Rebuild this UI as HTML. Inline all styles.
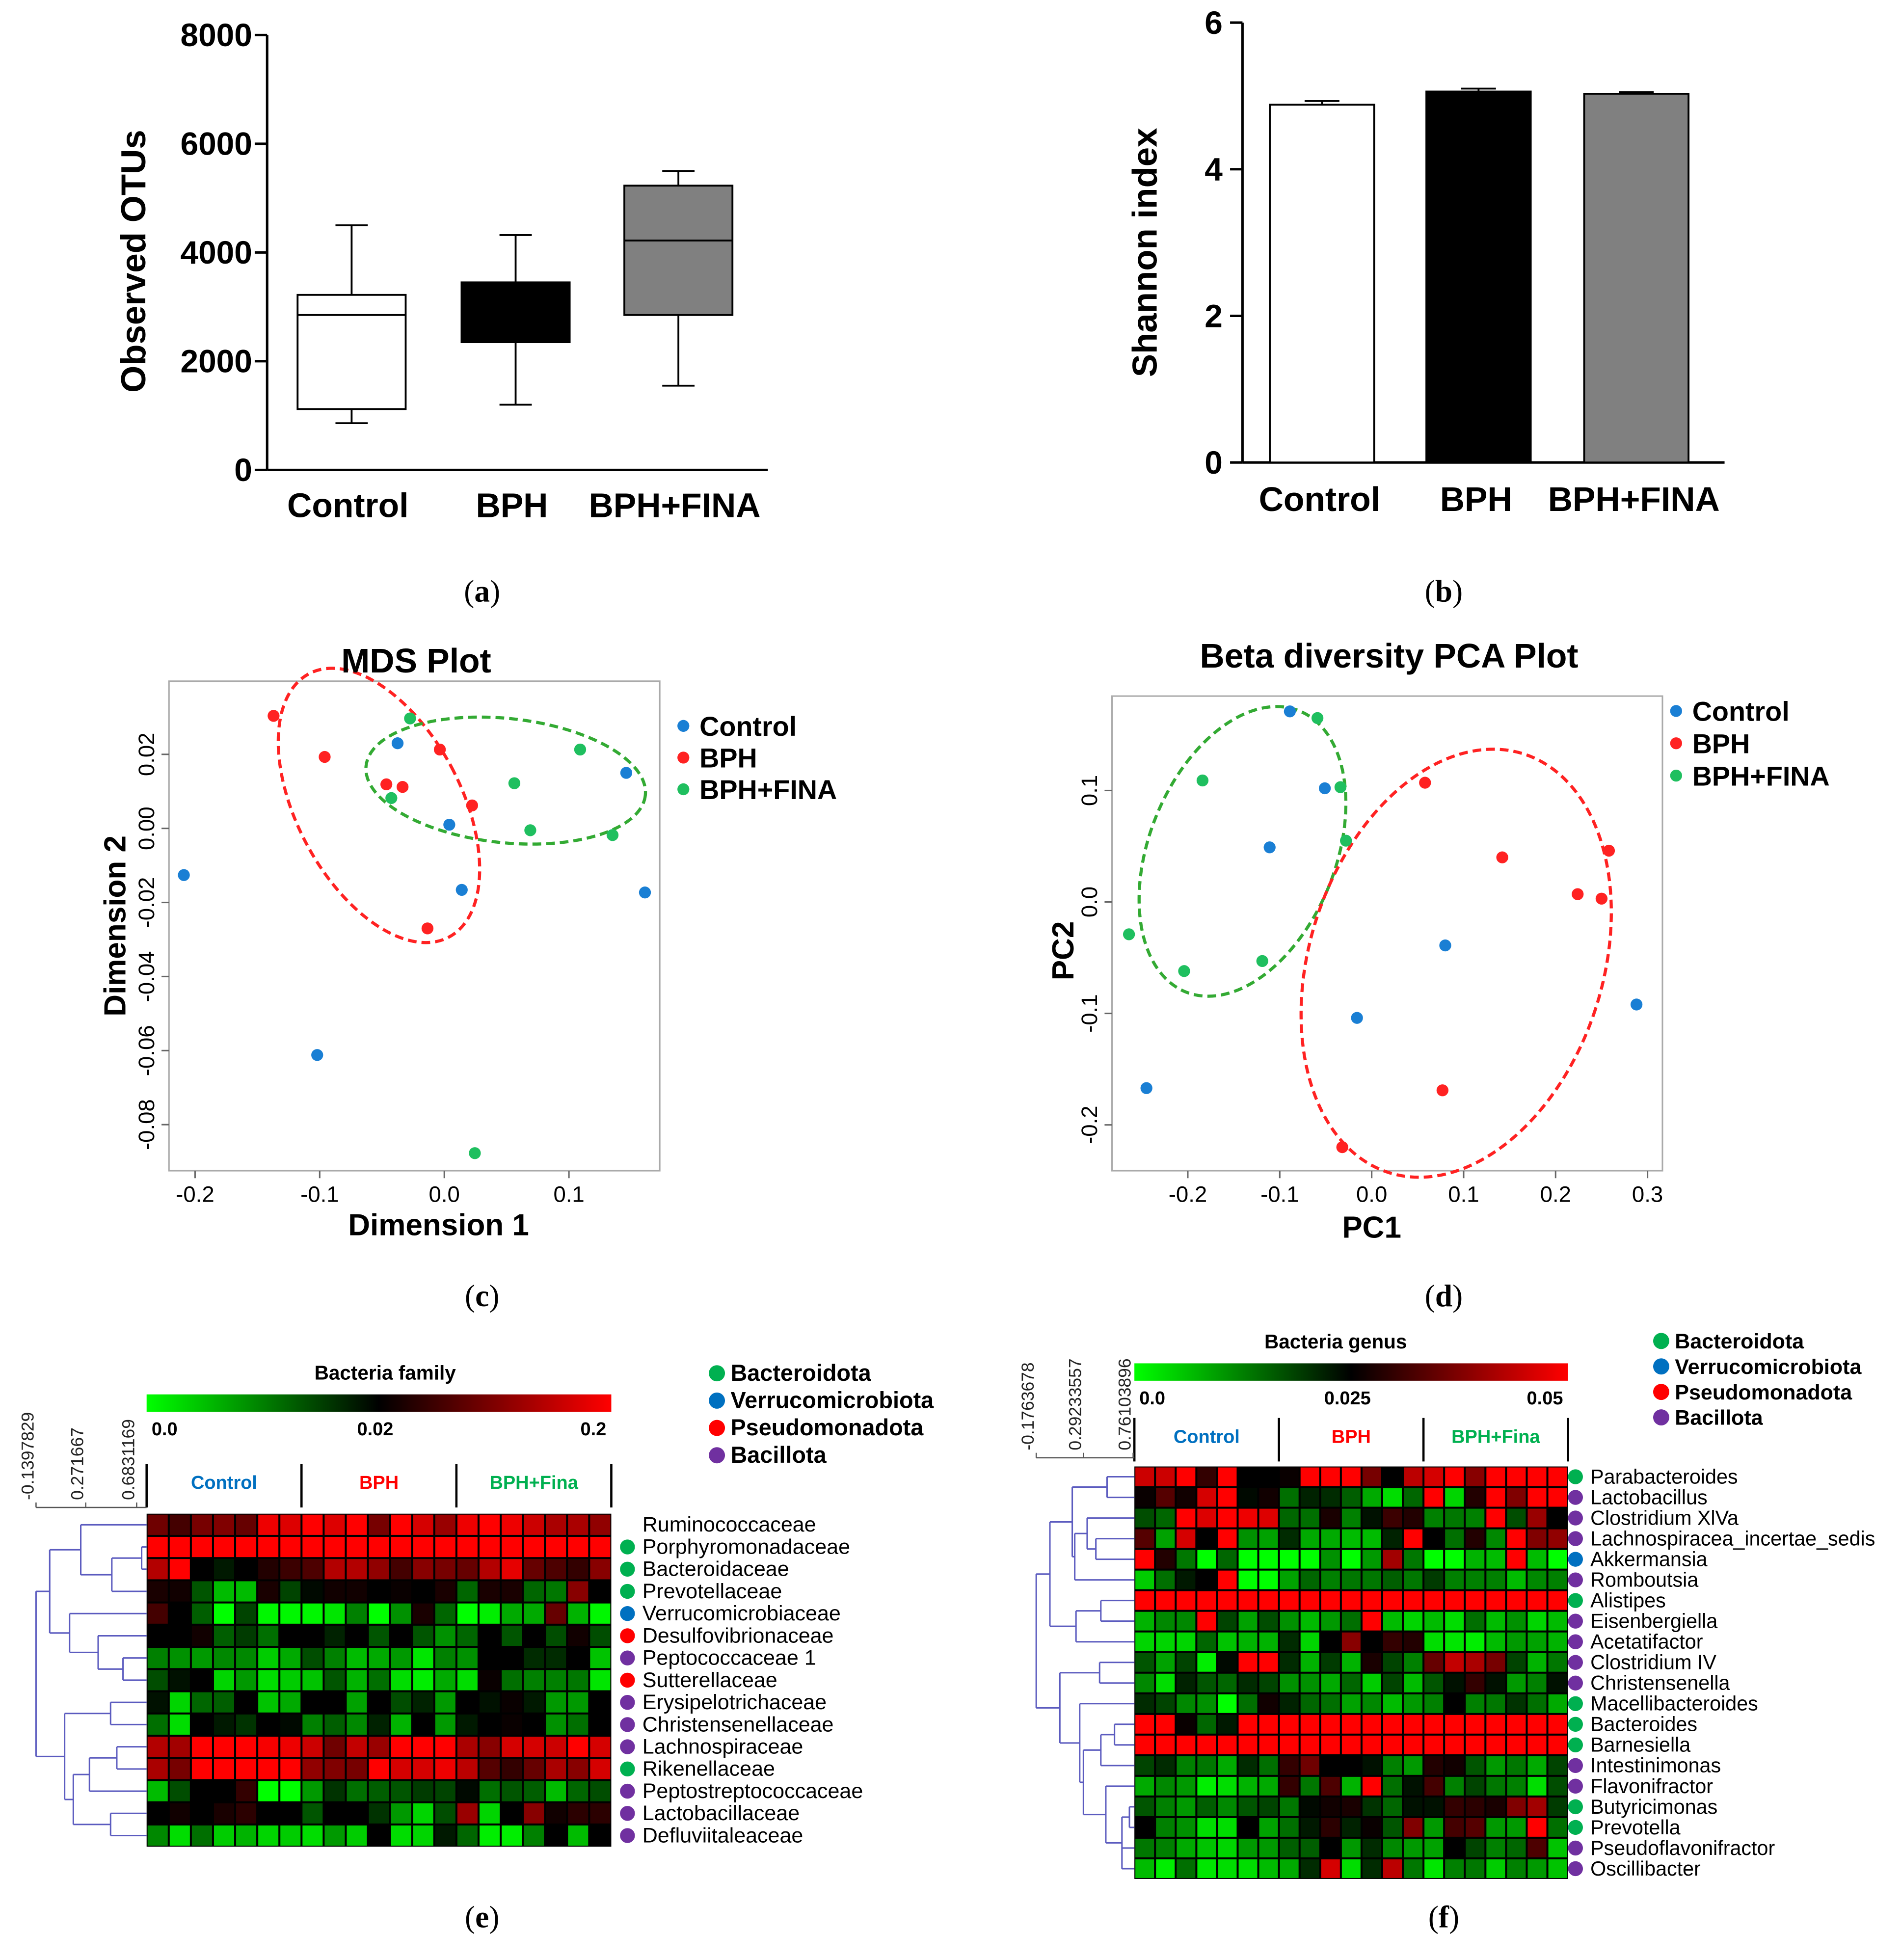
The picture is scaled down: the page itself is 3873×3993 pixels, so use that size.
<!DOCTYPE html>
<html><head><meta charset="utf-8"><style>
html,body{margin:0;padding:0;background:#fff;}
svg{display:block;}
text{font-family:"Liberation Sans",Arial,sans-serif;}
.cap{font-family:"Liberation Serif",serif;font-size:25px;}
</style></head><body>
<svg id="fig" xmlns="http://www.w3.org/2000/svg" width="3873" height="3993" viewBox="0 0 1530 1577">
<rect width="1530" height="1577" fill="#fff"/>
<text class="cap" x="388" y="484" text-anchor="middle">(<tspan font-weight="bold">a</tspan>)</text>
<text class="cap" x="1162" y="484" text-anchor="middle">(<tspan font-weight="bold">b</tspan>)</text>
<text class="cap" x="388" y="1051" text-anchor="middle">(<tspan font-weight="bold">c</tspan>)</text>
<text class="cap" x="1162" y="1051" text-anchor="middle">(<tspan font-weight="bold">d</tspan>)</text>
<text class="cap" x="388" y="1551" text-anchor="middle">(<tspan font-weight="bold">e</tspan>)</text>
<text class="cap" x="1162" y="1551" text-anchor="middle">(<tspan font-weight="bold">f</tspan>)</text>
</svg>
<script>
// ---------- data ----------
const boxGroups = ["Control","BPH","BPH+FINA"];
const boxMin = [860,1200,1550];
const boxQ1 = [1120,2350,2850];
const boxMed = [2850,2350,4220];
const boxQ3 = [3220,3450,5230];
const boxMax = [4500,4320,5500];
const boxFill = ["#ffffff","#000000","#808080"];
const otuTicks = [0,2000,4000,6000,8000];

const shannonGroups = ["Control","BPH","BPH+FINA"];
const shannonMean = [4.88,5.06,5.03];
const shannonErr = [0.05,0.04,0.02];
const shannonTicks = [0,2,4,6];

const mdsXTicks = [-0.2,-0.1,0.0,0.1];
const mdsYTicks = [0.02,0.00,-0.02,-0.04,-0.06,-0.08];
const mdsCtrlX = [-0.0375,-0.209,-0.102,0.004,0.014,0.146,0.161];
const mdsCtrlY = [0.023,-0.0126,-0.0612,0.001,-0.0166,0.015,-0.0173];
const mdsBphX = [-0.137,-0.096,-0.0465,-0.0335,-0.0036,0.0223,-0.0135];
const mdsBphY = [0.0304,0.0193,0.0119,0.0112,0.0213,0.0062,-0.027];
const mdsFinX = [-0.0275,-0.0425,0.0562,0.069,0.109,0.135,0.0245];
const mdsFinY = [0.0297,0.0082,0.0122,-0.0005,0.0213,-0.0018,-0.0877];

const pcaXTicks = [-0.2,-0.1,0.0,0.1,0.2,0.3];
const pcaYTicks = [0.1,0.0,-0.1,-0.2];
const pcaCtrlX = [-0.089,-0.051,-0.111,0.080,-0.016,-0.245,0.288];
const pcaCtrlY = [0.171,0.102,0.049,-0.039,-0.104,-0.167,-0.092];
const pcaBphX = [0.058,0.142,0.258,0.224,0.250,0.077,-0.032];
const pcaBphY = [0.107,0.040,0.046,0.007,0.003,-0.169,-0.220];
const pcaFinX = [-0.059,-0.034,-0.184,-0.028,-0.264,-0.204,-0.119];
const pcaFinY = [0.165,0.103,0.109,0.055,-0.029,-0.062,-0.053];

const famNames = ["Ruminococcaceae","Porphyromonadaceae","Bacteroidaceae","Prevotellaceae","Verrucomicrobiaceae","Desulfovibrionaceae","Peptococcaceae 1","Sutterellaceae","Erysipelotrichaceae","Christensenellaceae","Lachnospiraceae","Rikenellaceae","Peptostreptococcaceae","Lactobacillaceae","Defluviitaleaceae"];
const famPhylum = ["","G","G","G","B","R","P","R","P","P","P","G","P","P","P"];
const famValues = [
[1.3,0.8,1.4,1.5,1.2,2.8,2.6,3,2.6,3,1.4,3,2.5,1.8,2.8,3,2.8,2.4,2,2,1.7],
[3,3,3,3,3,3,3,3,3,3,3,3,3,3,3,3,3,3,3,3,3],
[2.1,3,0,-0.3,0,0.4,0.7,0.9,2.1,2.1,1.7,0.8,1.6,1.4,1.2,2.1,2.7,1.2,0.9,0.6,1.6],
[0.3,0.2,-1,-2.2,-2.2,0.3,-0.8,-0.1,0.2,0.2,0,0.1,0,0.3,-1.2,0.3,0.3,-1.2,-1.4,1.6,0],
[0.8,0,-1.1,-3,-0.8,-2.9,-2.9,-2.9,-2.7,-1.5,-3,-1.7,0.3,-1.2,-3,-2.8,-2,-2,1.2,-2.1,-2.9],
[0,0,0.2,-1.1,-0.7,-1.3,0,0,-0.4,0,-1,0,-1,-1.7,-1.2,0,-1,0,-0.9,0.2,-0.9],
[-1.5,-1.7,-1.8,-1.6,-1.6,-2.4,-2,-0.9,-1.5,-2.2,-2,-1.8,-2.7,-1.5,-1.7,0,0,-0.5,-0.5,0,-2.3],
[-0.9,-0.2,0,-2.5,-1.8,-2.6,-2.4,-2.3,-1,-2.1,-1.3,-2.6,-2.8,-2,-2.6,0.1,-1.3,-1.5,-1.5,-1.4,-2.7],
[-0.2,-2.5,-1.2,-1.1,0,-2.3,-2,0,0,-1.9,0,-0.9,-0.4,-1.8,0,-0.2,0.1,-0.3,-1.8,-1.8,0],
[-1.3,-2.6,0,-0.3,-0.6,0,-0.1,-1.5,-1.1,-1.6,-0.4,-2.1,0,-1.8,-0.3,0,0.1,0,-1.7,-1.3,0],
[2.1,1.9,3,3,3,2.9,2.8,2.4,1.3,2.3,1.8,3,3,3,2,1.6,2.5,2.5,2.4,3,2.5],
[2,1.4,3,3,3,3,3,1.7,1.5,1.4,3,2.5,2.5,2.8,2.2,1,0.6,1.2,2,1.6,2.5],
[-2.2,-0.9,0,0,0.6,-3,-3,-1.8,-0.6,-1.3,-1.1,-1,-0.7,-0.8,-0.1,-1.3,-1,-1.1,-2.2,-1.2,-0.9],
[0,0.2,0,0.3,0.5,0,0,-1,0,0,-0.6,-1.8,-2.5,-0.9,1.8,-2.5,0,1.6,0.2,0.5,0.5],
[-1.6,-2.6,-1.3,-2.4,-2.1,-2.5,-2.4,-2.6,-1.8,-2.4,0,-2.6,-2.5,-0.3,-1.2,-2.8,-2.8,-1.5,0,-2.2,0]
];
const genNames = ["Parabacteroides","Lactobacillus","Clostridium XlVa","Lachnospiracea_incertae_sedis","Akkermansia","Romboutsia","Alistipes","Eisenbergiella","Acetatifactor","Clostridium IV","Christensenella","Macellibacteroides","Bacteroides","Barnesiella","Intestinimonas","Flavonifractor","Butyricimonas","Prevotella","Pseudoflavonifractor","Oscillibacter"];
const genPhylum = ["G","P","P","P","B","P","G","P","P","P","P","G","G","G","P","P","G","G","P","P"];
const genValues = [
[2.4,2.4,3,0.6,3,0,0,0.1,3,3,3,1.4,0,2.2,2.5,3,1.6,3,3,3,3],
[0.1,1,0.2,2.5,3,-0.1,0.2,-1.3,-0.4,-0.5,-1.1,-2,-2.6,-1.2,3,-2.5,0.4,3,1.5,3,3],
[-0.9,-1.2,3,2.6,3,2.8,2.6,-1.2,-1.3,0.3,-1.5,-0.2,0.7,0.4,-1.5,-1.4,-1.5,3,-0.9,1.8,0],
[1,-1.9,2.5,0,3,-1.7,-1.9,-0.5,-2,-2,-2.2,-2.2,-0.4,3,0,-1.3,0.4,-1.6,3,1.5,1.7],
[3,0.4,-1.4,-3,-1.2,-3,-3,-3,-3,-1.7,-3,-1.8,1.9,-1.4,-3,-3,-2.1,-2.2,3,-2.2,-3],
[-2.4,-1.3,-0.3,0,3,-3,-3,-1.9,-1.2,-1.5,-1.4,-1.4,-1.1,-1.4,-0.7,-1.5,-1.5,-1.5,-2.2,-1.6,-1.5],
[3,3,3,3,3,3,3,3,3,3,3,3,3,3,3,3,3,3,3,3,3],
[-2.1,-1.6,-1.6,3,-0.8,-1.9,-0.9,-1.7,-2.2,-1.8,-1.3,3,-2.2,-2.5,-2.2,-2.6,-1.3,-2.2,-1.7,-2.5,-2.2],
[-2.5,-2.5,-2.5,-1.2,-2.3,-2.1,-2.1,-0.5,-2.5,0,1.6,0,0.6,0.4,-2.6,-2.7,-2.8,-2.2,-1.8,-1.9,-2.1],
[-1,-1.9,-0.8,-2.8,-0.1,3,3,-0.5,-2.1,-0.7,-2.1,0.3,-0.8,-1.5,1.2,2.3,2,1.4,-0.8,-2.1,-1.4],
[-1.6,-2.6,-0.4,-1,-1.2,-0.5,-0.8,-1.7,-1.7,-2,-1.2,-2.4,-0.8,-2.2,-1,-0.2,0.6,-0.2,-1.8,-1.5,-0.2],
[-0.5,-0.8,-1.6,-1.7,-3,-1.3,0.2,-0.4,-1.2,-1.3,-1.9,-1.6,-2.2,-1.8,-1.5,0,-1.5,-1.4,-0.6,-1.3,-2],
[3,3,0.1,-1.2,-0.3,3,3,3,3,3,3,3,3,3,3,3,3,3,3,3,3],
[3,3,3,3,3,3,3,3,3,3,3,3,3,3,3,3,3,3,3,3,3],
[-0.8,-0.5,-1.5,-1.4,-2,-0.5,-1.3,0.6,1.3,0,0,-0.2,-1.5,-1.8,0.4,0.2,-1,-1.8,-1.4,-2,-0.8],
[-2,-1.6,-1.8,-2.8,-2.6,-2.1,-2,0.6,-1.4,0.9,-2.1,3,-1.3,-0.2,0.8,-1.5,-0.8,-1.4,-1.5,-2.6,-0.9],
[-1,-1.5,-1.8,-1.1,-1.6,-1,-0.8,-1.4,-0.1,0.2,0.3,-0.6,-1.2,-0.2,-0.2,0.6,0.5,0.3,1.5,1.9,-0.7],
[0,-1.5,-1.7,-2.6,-2.6,0,-1.9,-1.3,-0.3,0.5,-0.4,0.1,-1,1.5,-1.8,0.8,1,-1.8,-1.8,3,-1.3],
[-1.4,-1.5,-2,-2.3,-2.5,-1.8,-1.8,-1.1,-1.1,0,-1.8,-0.5,-1.6,-1.8,-1.9,0,-0.8,-1.5,-1.2,0.9,-2.3],
[-2.2,-2.8,-1.3,-2.7,-2.6,-2.6,-2.2,-2,-0.5,2.5,-2.6,-0.5,2.2,-1.4,-2.7,-1.5,-1.4,-2.4,-1.5,-1.8,-2.3]
];

// ---------- helpers ----------
const NS="http://www.w3.org/2000/svg";
const svg=document.getElementById('fig');
function mk(tag,attrs,parent){const e=document.createElementNS(NS,tag);for(const k in attrs)e.setAttribute(k,attrs[k]);(parent||svg).appendChild(e);return e;}
function txt(x,y,s,attrs,parent){const e=mk('text',Object.assign({x:x,y:y},attrs||{}),parent);e.textContent=s;return e;}
const phyColor={G:"#00b050",B:"#0070c0",R:"#ff0000",P:"#7030a0"};
function heatColor(v){v=Math.max(-3,Math.min(3,v));const c=Math.round(Math.abs(v)/3*255);return v<0?`rgb(0,${c},0)`:`rgb(${c},0,0)`;}

// ---------- panel a: box plot ----------
(function(){
  const g=mk('g',{});
  
  
  const ya=v=>378-v*350/8000;
  const xc=[283,415,546], bw=87;
  mk('line',{x1:215,y1:ya(8000),x2:215,y2:378,stroke:'#000','stroke-width':2},g);
  mk('line',{x1:215,y1:378,x2:618,y2:378,stroke:'#000','stroke-width':2},g);
  otuTicks.forEach(t=>{
    const tk=mk('line',{x1:205,y1:ya(t),x2:215,y2:ya(t),stroke:'#000','stroke-width':2},g);
    
    
    const l=txt(203,ya(t)+9,String(t),{'text-anchor':'end','font-size':26,'font-weight':'bold'},g);
    
    
  });
  const yt=txt(0,0,'Observed OTUs',{'font-size':28,'font-weight':'bold','text-anchor':'middle',transform:'translate(117,210) rotate(-90)'},g);
  
  
  boxGroups.forEach((n,i)=>{
    const x=xc[i];
    const w=mk('line',{x1:x,y1:ya(boxMin[i]),x2:x,y2:ya(boxMax[i]),stroke:'#000','stroke-width':1.5},g);
    
    
    mk('line',{x1:x-13,y1:ya(boxMin[i]),x2:x+13,y2:ya(boxMin[i]),stroke:'#000','stroke-width':1.5},g);
    mk('line',{x1:x-13,y1:ya(boxMax[i]),x2:x+13,y2:ya(boxMax[i]),stroke:'#000','stroke-width':1.5},g);
    const b=mk('rect',{x:x-bw/2,y:ya(boxQ3[i]),width:bw,height:ya(boxQ1[i])-ya(boxQ3[i]),fill:boxFill[i],stroke:'#000','stroke-width':1.5},g);
    
    
    mk('line',{x1:x-bw/2,y1:ya(boxMed[i]),x2:x+bw/2,y2:ya(boxMed[i]),stroke:'#000','stroke-width':1.5},g);
    const l=txt(x-3,416,n,{'text-anchor':'middle','font-size':27.5,'font-weight':'bold'},g);
    
    
  });
})();

// ---------- panel b: bar chart ----------
(function(){
  const g=mk('g',{});
  
  
  const yb=v=>372-v*354/6;
  const xc=[1064,1190,1317], bw=84;
  mk('line',{x1:1000,y1:yb(6),x2:1000,y2:372,stroke:'#000','stroke-width':2},g);
  mk('line',{x1:1000,y1:372,x2:1388,y2:372,stroke:'#000','stroke-width':2},g);
  shannonTicks.forEach(t=>{
    const tk=mk('line',{x1:990,y1:yb(t),x2:1000,y2:yb(t),stroke:'#000','stroke-width':2},g);
    
    
    const l=txt(984,yb(t)+9,String(t),{'text-anchor':'end','font-size':26,'font-weight':'bold'},g);
    
    
  });
  const yt=txt(0,0,'Shannon index',{'font-size':28,'font-weight':'bold','text-anchor':'middle',transform:'translate(931,203) rotate(-90)'},g);
  
  
  shannonGroups.forEach((n,i)=>{
    const x=xc[i];
    const e=mk('line',{x1:x,y1:yb(shannonMean[i]+shannonErr[i]),x2:x,y2:yb(shannonMean[i]),stroke:'#000','stroke-width':1.5},g);
    
    
    mk('line',{x1:x-14,y1:yb(shannonMean[i]+shannonErr[i]),x2:x+14,y2:yb(shannonMean[i]+shannonErr[i]),stroke:'#000','stroke-width':1.5},g);
    const b=mk('rect',{x:x-bw/2,y:yb(shannonMean[i]),width:bw,height:372-yb(shannonMean[i]),fill:boxFill[i],stroke:'#000','stroke-width':1.5},g);
    
    
    const l=txt(x-2,411,n,{'text-anchor':'middle','font-size':27.5,'font-weight':'bold'},g);
    
    
  });
})();

// ---------- scatter helper ----------
function scatter(cfg){
  const g=mk('g',{});
  
  
  const sx=v=>cfg.x0+v*cfg.kx, sy=v=>cfg.y0-v*cfg.ky;
  mk('rect',{x:cfg.box[0],y:cfg.box[1],width:cfg.box[2]-cfg.box[0],height:cfg.box[3]-cfg.box[1],fill:'none',stroke:'#aaa','stroke-width':1.2},g);
  cfg.xt.forEach(t=>{
    mk('line',{x1:sx(t),y1:cfg.box[3],x2:sx(t),y2:cfg.box[3]+6,stroke:'#666','stroke-width':1.2},g);
    const l=txt(sx(t),cfg.box[3]+25,t.toFixed(1),{'text-anchor':'middle','font-size':18},g);
    
    
  });
  cfg.yt.forEach(t=>{
    mk('line',{x1:cfg.box[0]-6,y1:sy(t),x2:cfg.box[0],y2:sy(t),stroke:'#666','stroke-width':1.2},g);
    const l=txt(0,0,t.toFixed(cfg.yd),{'text-anchor':'middle','font-size':18,transform:`translate(${cfg.box[0]-12},${sy(t)}) rotate(-90)`},g);
    
    
  });
  cfg.ell.forEach(e=>{
    const el=mk('ellipse',{cx:0,cy:0,rx:e[2],ry:e[3],fill:'none',stroke:e[5],'stroke-width':2.5,'stroke-dasharray':'7,4',transform:`translate(${e[0]},${e[1]}) rotate(${e[4]})`},g);
    
    
  });
  cfg.series.forEach(s=>{
    s.xs.forEach((v,i)=>{
      const c=mk('circle',{cx:sx(v),cy:sy(s.ys[i]),r:4.8,fill:s.color},g);
      
      
    });
  });
  const t=txt(cfg.title[1],cfg.title[2],cfg.title[0],{'text-anchor':'middle','font-size':27.5,'font-weight':'bold'},g);
  
  
  const xt=txt(cfg.xl[1],cfg.xl[2],cfg.xl[0],{'text-anchor':'middle','font-size':24.5,'font-weight':'bold'},g);
  
  
  const yt=txt(0,0,cfg.yl[0],{'text-anchor':'middle','font-size':24.5,'font-weight':'bold',transform:`translate(${cfg.yl[1]},${cfg.yl[2]}) rotate(-90)`},g);
  
  
  cfg.series.forEach((s,i)=>{
    const lg=mk('g',{},g);
    
    
    mk('circle',{cx:cfg.leg[0],cy:cfg.leg[1]+i*cfg.leg[2],r:4.8,fill:s.color},lg);
    txt(cfg.leg[0]+13,cfg.leg[1]+i*cfg.leg[2]+8,s.label,{'font-size':22,'font-weight':'bold'},lg);
  });
}
const cBlue="#1a7fd4",cRed="#ff2222",cGreen="#1fbf5f";
scatter({name:'mds-plot',box:[136,548,531,942],x0:357.6,kx:1003,y0:666.5,ky:2980,xt:mdsXTicks,yt:mdsYTicks,yd:2,
  title:['MDS Plot',335,541],xl:['Dimension 1',353,994],yl:['Dimension 2',101,745],
  ell:[[305,648,66,120,-28,'#ff2222'],[407,628,113,50,6,'#33aa33']],
  leg:[550,584,25.5],
  series:[{key:'control',label:'Control',color:cBlue,xs:mdsCtrlX,ys:mdsCtrlY},{key:'bph',label:'BPH',color:cRed,xs:mdsBphX,ys:mdsBphY},{key:'bph-fina',label:'BPH+FINA',color:cGreen,xs:mdsFinX,ys:mdsFinY}]});
scatter({name:'pca-plot',box:[895,560,1338,942],x0:1104,kx:740,y0:725.7,ky:897,xt:pcaXTicks,yt:pcaYTicks,yd:1,
  title:['Beta diversity PCA Plot',1118,537],xl:['PC1',1104,996],yl:['PC2',864,765],
  ell:[[1000,685,75,122,22,'#33aa33'],[1172,775,118,177,18,'#ff2222']],
  leg:[1349,572,26],
  series:[{key:'control',label:'Control',color:cBlue,xs:pcaCtrlX,ys:pcaCtrlY},{key:'bph',label:'BPH',color:cRed,xs:pcaBphX,ys:pcaBphY},{key:'bph-fina',label:'BPH+FINA',color:cGreen,xs:pcaFinX,ys:pcaFinY}]});

// ---------- heatmap helper ----------
function heatmap(cfg){
  const g=mk('g',{});
  
  
  const nr=cfg.values.length, nc=cfg.values[0].length;
  const cw=(cfg.x1-cfg.x0)/nc, ch=(cfg.y1-cfg.y0)/nr;
  mk('rect',{x:cfg.x0,y:cfg.y0,width:cfg.x1-cfg.x0,height:cfg.y1-cfg.y0,fill:'#000'},g);
  cfg.values.forEach((row,r)=>row.forEach((v,c)=>{
    const cell=mk('rect',{x:cfg.x0+c*cw+0.8,y:cfg.y0+r*ch+0.8,width:cw-1.6,height:ch-1.6,fill:heatColor(v)},g);
    
    
  }));
  cfg.names.forEach((n,r)=>{
    const cy=cfg.y0+(r+0.5)*ch;
    if(cfg.phy[r]){
      const d=mk('circle',{cx:cfg.x1+cfg.dotOff,cy:cy,r:6,fill:phyColor[cfg.phy[r]]},g);
      
      
    }
    const l=txt(cfg.x1+cfg.labOff,cy+5.5,n,{'font-size':cfg.fs},g);
    
    
  });
  const gid=cfg.name+'-grad';
  const defs=mk('defs',{},g);
  const lg=mk('linearGradient',{id:gid,x1:0,y1:0,x2:1,y2:0},defs);
  mk('stop',{offset:'0','stop-color':'#00ff00'},lg);
  mk('stop',{offset:'0.5','stop-color':'#000000'},lg);
  mk('stop',{offset:'1','stop-color':'#ff0000'},lg);
  const cb=mk('rect',{x:cfg.x0,y:cfg.barY,width:cfg.x1-cfg.x0,height:14,fill:`url(#${gid})`},g);
  
  
  cfg.barLabels.forEach((s,i)=>{
    const x=cfg.x0+[4,(cfg.x1-cfg.x0)/2+cfg.midShift,(cfg.x1-cfg.x0)-4][i];
    const l=txt(x,cfg.barY+33,s,{'font-size':15,'font-weight':'bold','text-anchor':['start','middle','end'][i]},g);
    
    
  });
  const t=txt(cfg.titleX,cfg.barY-12,cfg.title,{'font-size':16,'font-weight':'bold','text-anchor':'middle'},g);
  
  
  const third=(cfg.x1-cfg.x0)/3;
  [['Control','#0070c0'],['BPH','#ff0000'],['BPH+Fina','#00b050']].forEach((gr,i)=>{
    const l=txt(cfg.x0+third*(i+0.5),cfg.grpY,gr[0],{'font-size':15,'font-weight':'bold','text-anchor':'middle',fill:gr[1]},g);
    
    
  });
  [0,1,2,3].forEach(i=>{
    mk('line',{x1:cfg.x0+third*i,y1:cfg.grpY-20,x2:cfg.x0+third*i,y2:cfg.grpY+15,stroke:'#000','stroke-width':1.8},g);
  });
  const dg=mk('g',{},g);
  
  
  const col='#5b5bbf';
  function draw(node){
    if(typeof node==='number') return {x:cfg.x0,y:cfg.y0+(node+0.5)*ch};
    const pts=node.c.map(draw);
    pts.forEach(p=>mk('line',{x1:node.h,y1:p.y,x2:p.x,y2:p.y,stroke:col,'stroke-width':1.2},dg));
    const ys=pts.map(p=>p.y);
    mk('line',{x1:node.h,y1:Math.min(...ys),x2:node.h,y2:Math.max(...ys),stroke:col,'stroke-width':1.2},dg);
    return {x:node.h,y:(Math.min(...ys)+Math.max(...ys))/2};
  }
  draw(cfg.tree);
  mk('line',{x1:cfg.scale[0][0],y1:cfg.scaleY,x2:cfg.x0,y2:cfg.scaleY,stroke:'#555','stroke-width':1},g);
  cfg.scale.forEach(s=>{
    mk('line',{x1:s[0],y1:cfg.scaleY-4,x2:s[0],y2:cfg.scaleY,stroke:'#555','stroke-width':1},g);
    const l=txt(0,0,s[1],{'font-size':14,fill:'#222',transform:`translate(${s[0]-2},${cfg.scaleY-6}) rotate(-90)`},g);
    
    
  });
  [['Bacteroidota','G'],['Verrucomicrobiota','B'],['Pseudomonadota','R'],['Bacillota','P']].forEach((p,i)=>{
    const lg2=mk('g',{},g);
    
    
    mk('circle',{cx:cfg.leg[0],cy:cfg.leg[1]+i*cfg.leg[2],r:6.5,fill:phyColor[p[1]]},lg2);
    txt(cfg.leg[0]+11,cfg.leg[1]+i*cfg.leg[2]+6,p[0],{'font-size':cfg.legFs,'font-weight':'bold'},lg2);
  });
}
heatmap({name:'family-heatmap',x0:118,x1:492,y0:1218,y1:1486,values:famValues,names:famNames,phy:famPhylum,fs:17,dotOff:13,labOff:25,
  barY:1122,barLabels:['0.0','0.02','0.2'],midShift:-3,title:'Bacteria family',titleX:310,grpY:1198,
  scaleY:1213,scale:[[29,'-0.1397829'],[69,'0.271667'],[110,'0.6831169']],
  leg:[577,1105,22],legFs:18.5,
  tree:{h:29,c:[{h:40,c:[{h:65,c:[0,{h:90,c:[{h:114,c:[1,2]},3]}]},{h:56,c:[4,{h:79,c:[5,{h:99,c:[6,7]}]}]}]},
                 {h:52,c:[{h:89,c:[8,9]},{h:59,c:[{h:72,c:[{h:94,c:[10,11]},12]},{h:89,c:[13,14]}]}]}]}});
heatmap({name:'genus-heatmap',x0:913,x1:1262,y0:1180,y1:1512,values:genValues,names:genNames,phy:genPhylum,fs:16.3,dotOff:6,labOff:18,
  barY:1097,barLabels:['0.0','0.025','0.05'],midShift:-3,title:'Bacteria genus',titleX:1075,grpY:1161,
  scaleY:1173,scale:[[834,'-0.1763678'],[872,'0.29233557'],[912,'0.76103896']],
  leg:[1337,1079,20.5],legFs:17,
  tree:{h:834,c:[{h:845,c:[{h:863,c:[{h:891,c:[0,1]},{h:865,c:[{h:875,c:[2,{h:882,c:[3,4]}]},5]}]},{h:866,c:[{h:886,c:[6,7]},8]}]},
                  {h:853,c:[{h:885,c:[9,10]},{h:869,c:[11,{h:872,c:[{h:886,c:[{h:897,c:[12,13]},14]},{h:890,c:[15,{h:903,c:[{h:909,c:[16,17]},18,19]}]}]}]}]}]}});
</script>
</body></html>
